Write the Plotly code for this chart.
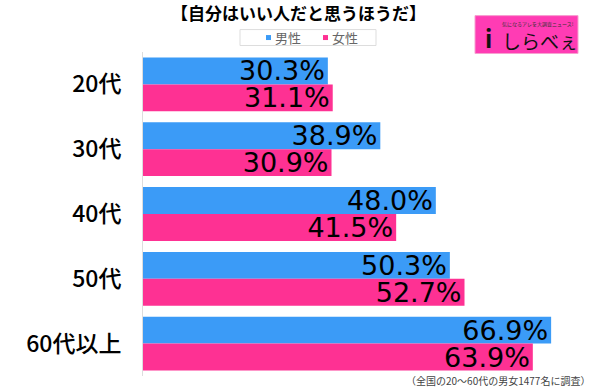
import plotly.graph_objects as go

categories = ["20代", "30代", "40代", "50代", "60代以上"]
male = [30.3, 38.9, 48.0, 50.3, 66.9]
female = [31.1, 30.9, 41.5, 52.7, 63.9]
series_names = ["男性", "女性"]

FONT = "Noto Sans CJK JP"
NUMFONT = "DejaVu Sans"
BLUE = "#3B9BF7"
PINK = "#FE3193"

L, T, W, H = 143, 51.5, 449, 325.0

def px(x):
    return (x - L) / W

def py(y):
    return (T + H - y) / H

fig = go.Figure()
for name, vals, col in [(series_names[0], male, BLUE), (series_names[1], female, PINK)]:
    fig.add_trace(go.Bar(
        y=categories, x=vals, name=name, orientation="h",
        marker=dict(color=col, line=dict(width=0)),
        text=[f"{v:.1f}%" for v in vals],
        textposition="inside", insidetextanchor="end",
        constraintext="none", cliponaxis=False,
        textfont=dict(family=NUMFONT, size=27, color="#000000"),
        hoverinfo="skip",
    ))

fig.update_layout(
    width=600, height=387,
    margin=dict(l=L, r=600 - L - W, t=T, b=387 - T - H, autoexpand=False),
    barmode="group", bargap=0.17, bargroupgap=0.0,
    paper_bgcolor="white", plot_bgcolor="white",
    font=dict(family=FONT, color="#000"),
    showlegend=False,
    xaxis=dict(range=[0, 73.6], visible=False, fixedrange=True),
    yaxis=dict(autorange="reversed", showline=True, linecolor="#DDDDDD", linewidth=1,
               ticks="", showgrid=False, tickfont=dict(size=23, color="#000", weight=500),
               ticklabelstandoff=16, automargin=False),
)

# title
fig.add_annotation(text="<b>【自分はいい人だと思うほうだ】</b>", xref="paper", yref="paper",
                   x=px(298), y=py(12), xanchor="center", yanchor="middle",
                   showarrow=False, font=dict(size=17, color="#000", family=FONT))

# legend (drawn)
fig.add_shape(type="rect", xref="paper", yref="paper", x0=px(240), x1=px(376), y0=py(45), y1=py(29),
              line=dict(color="#DDDDDD", width=1), fillcolor="white")
for sx, col, label in [(266, BLUE, series_names[0]), (323, PINK, series_names[1])]:
    fig.add_shape(type="rect", xref="paper", yref="paper", x0=px(sx), x1=px(sx + 5),
                  y0=py(39.5), y1=py(34.5), line=dict(width=0), fillcolor=col)
    fig.add_annotation(text=label, xref="paper", yref="paper", x=px(sx + 7), y=py(37),
                       xanchor="left", yanchor="middle", showarrow=False,
                       font=dict(size=13, color="#666666", family=FONT))

# logo
fig.add_shape(type="rect", xref="paper", yref="paper", x0=px(475), x1=px(578),
              y0=py(53), y1=py(15), fillcolor="#FF3CB4", line=dict(color="#F7A0D0", width=1), layer="above")
fig.add_annotation(text="しらべぇ", xref="paper", yref="paper", x=px(540), y=py(40),
                   xanchor="center", yanchor="middle", showarrow=False,
                   font=dict(size=19, color="#111", family=FONT))
fig.add_annotation(text="気になるアレを大調査ニュース!", xref="paper", yref="paper", x=px(538), y=py(23),
                   xanchor="center", yanchor="middle", showarrow=False,
                   font=dict(size=5, color="#333", family=FONT))
fig.add_annotation(text="<b>i</b>", xref="paper", yref="paper", x=px(488), y=py(37),
                   xanchor="center", yanchor="middle", showarrow=False,
                   font=dict(size=24, color="#111", family=FONT))

# footnote
fig.add_annotation(text="（全国の20～60代の男女1477名に調査）", xref="paper", yref="paper",
                   x=px(592), y=py(381), xanchor="right", yanchor="middle",
                   showarrow=False, font=dict(size=10, color="#444", family=FONT))

fig.write_html("out.html", config={"displayModeBar": False, "staticPlot": True},
               post_script="document.body.style.margin='0';document.body.style.overflow='hidden';")
